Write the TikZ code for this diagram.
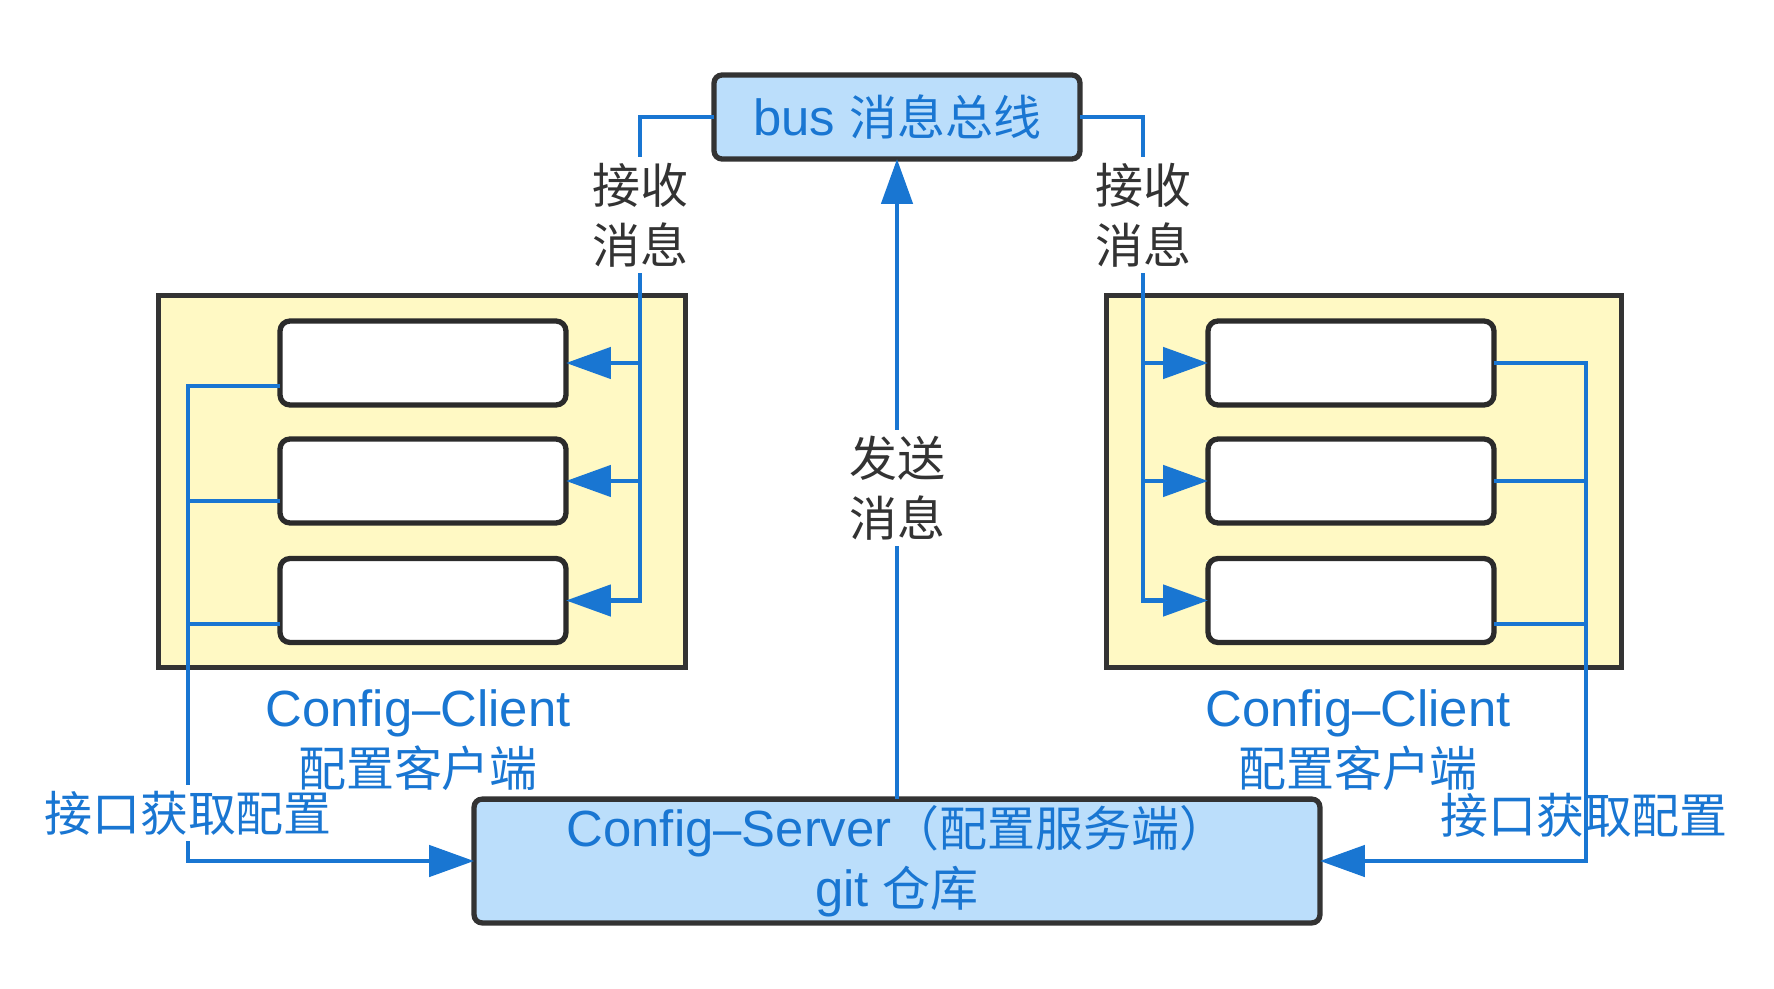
\documentclass[tikz,border=0pt]{standalone}
\usepackage{fontspec}
\setmainfont[Scale=1.06]{Liberation Sans}
\newfontfamily\cjk{Noto Sans CJK SC}
\usetikzlibrary{arrows.meta,calc}
\definecolor{dgblue}{RGB}{25,118,210}
\definecolor{dglight}{RGB}{187,222,251}
\definecolor{dgyellow}{RGB}{255,249,196}
\definecolor{dgdark}{RGB}{51,51,51}
\newcommand{\dgsize}{\fontsize{27.3pt}{34pt}\selectfont}

\begin{document}
\begin{tikzpicture}[x=0.02cm, y=-0.02cm, >={Triangle[length=0.9cm,width=0.62cm]},
  font=\dgsize,
  bluebox/.style={draw=dgdark, line width=3pt, fill=dglight, rounded corners=0.16cm,
    outer sep=0pt, text=dgblue, align=center},
  client/.style={draw=dgdark, line width=3pt, fill=dgyellow, outer sep=0pt},
  slot/.style={draw=dgdark!85!black, line width=3pt, fill=white, rounded corners=0.2cm,
    minimum width=5.72cm, minimum height=1.68cm, outer sep=0pt},
  link/.style={draw=dgblue, line width=2.7pt},
  msg/.style={text=dgdark, fill=white, align=center, inner sep=3.5pt, font={\cjk\dgsize}},
  note/.style={text=dgblue, align=center, inner sep=3.5pt}]
  \useasboundingbox (0,0) rectangle (1774,989);
  % client frames
  \node[client, minimum width=10.54cm, minimum height=7.44cm] (lc) at (422,481.5) {};
  \node[client, minimum width=10.3cm, minimum height=7.44cm] (rc) at (1364,481.5) {};
  % client instances
  \foreach \i/\y in {1/363,2/481,3/600.5} {
    \node[slot] (l\i) at (423,\y) {};
    \node[slot] (r\i) at (1351,\y) {};
  }
  % bus and server
  \node[bluebox, minimum width=7.32cm, minimum height=1.68cm] (bus) at (897,117)
    {bus {\cjk 消息总线}};
  \node[bluebox, minimum width=16.92cm, minimum height=2.16cm] (srv) at (897,861)
    {Config--Server{\cjk（配置服务端）}\\git {\cjk 仓库}};
  % junctions
  \coordinate (lbus) at (640,600.5);
  \coordinate (rbus) at (1143,600.5);
  \coordinate (lget) at (188,861);
  \coordinate (rget) at (1586,861);
  \foreach \i/\y in {1/386,2/501,3/624} \coordinate (lg\i) at (188,\y);
  \foreach \i/\y in {1/363,2/481,3/624} \coordinate (rg\i) at (1586,\y);
  % bus pushes to clients
  \draw[link,->] (bus.west) -| (lbus) -- (l3.east);
  \foreach \i in {1,2} \draw[link,->] (lbus |- l\i.east) -- (l\i.east);
  \draw[link,->] (bus.east) -| (rbus) -- (r3.west);
  \foreach \i in {1,2} \draw[link,->] (rbus |- r\i.west) -- (r\i.west);
  % server sends to bus
  \draw[link,->] (srv.north) -- (bus.south);
  % clients fetch config
  \draw[link,->] (l1.west |- lg1) -- (lg1) -- (lget) -- (srv.west);
  \foreach \i in {2,3} \draw[link] (l\i.west |- lg\i) -- (lg\i);
  \draw[link,->] (r1.east |- rg1) -- (rg1) -- (rget) -- (srv.east);
  \foreach \i in {2,3} \draw[link] (r\i.east |- rg\i) -- (rg\i);
  % labels
  \node[msg] (lrecv) at (640,215) {接收\\消息};
  \node[msg] (rrecv) at (1143,215) {接收\\消息};
  \node[msg] (send) at (897,488) {发送\\消息};
  \node[note, fill=white, font={\cjk\dgsize}] (lfetch) at (188,813) {接口获取配置};
  \node[note, font={\cjk\dgsize}] (rfetch) at (1584,815) {接口获取配置};
  \node[note] (lname) at (418,740) {Config--Client\\{\cjk 配置客户端}};
  \node[note] (rname) at (1358,740) {Config--Client\\{\cjk 配置客户端}};
\end{tikzpicture}
\end{document}
